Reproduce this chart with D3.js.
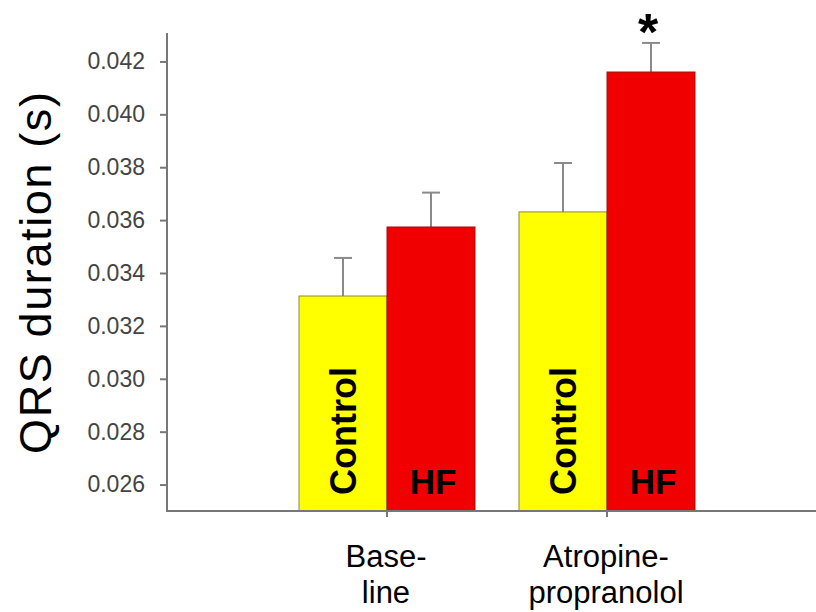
<!DOCTYPE html>
<html>
<head>
<meta charset="utf-8">
<script src="https://cdn.jsdelivr.net/npm/d3@7"></script>
<style>
  html, body { margin: 0; padding: 0; background: #ffffff; }
  svg { display: block; }
</style>
</head>
<body>
<svg id="chart" width="816" height="612"></svg>
<script>
// ---- data ----
const categories = ["Base-\nline", "Atropine-\npropranolol"];
const series = ["Control", "HF"];
const seriesLabels = ["Control", "HF"];
const controlValues = [0.03313, 0.03631];
const hfValues = [0.03574, 0.04160];
const controlErrors = [0.00144, 0.00185];
const hfErrors = [0.00130, 0.00110];
const yTicks = [0.026, 0.028, 0.030, 0.032, 0.034, 0.036, 0.038, 0.040, 0.042];
const yDomain = [0.025, 0.043];
const significance = [{ category: "Atropine-\npropranolol", series: "HF", mark: "*" }];
const yTitle = "QRS duration (s)";

// ---- layout ----
const svg = d3.select("#chart");
const axisX = 167, axisBottom = 511, axisTop = 35;
const colors = { Control: "#ffff00", HF: "#f00000" };

const y = d3.scaleLinear().domain(yDomain).range([axisBottom, axisTop]);
const x0 = d3.scaleBand().domain(categories).range([277, 717]).paddingInner(0).paddingOuter(0);
const x1 = d3.scaleBand().domain(series).range([0, x0.bandwidth()]).paddingInner(0).paddingOuter(0.25);

const rows = [];
categories.forEach((c, i) => {
  rows.push({ cat: c, ser: "Control", v: controlValues[i], e: controlErrors[i] });
  rows.push({ cat: c, ser: "HF", v: hfValues[i], e: hfErrors[i] });
});

// error bars
const eb = svg.append("g").attr("stroke", "#8a8a8a").attr("stroke-width", 2);
rows.forEach(d => {
  const cx = x0(d.cat) + x1(d.ser) + x1.bandwidth() / 2;
  eb.append("line").attr("x1", cx).attr("x2", cx).attr("y1", y(d.v)).attr("y2", y(d.v + d.e));
  eb.append("line").attr("x1", cx - 9).attr("x2", cx + 9).attr("y1", y(d.v + d.e)).attr("y2", y(d.v + d.e));
});

// bars
svg.append("g").selectAll("rect").data(rows).join("rect")
  .attr("x", d => x0(d.cat) + x1(d.ser))
  .attr("y", d => y(d.v))
  .attr("width", x1.bandwidth())
  .attr("height", d => axisBottom - y(d.v))
  .attr("fill", d => colors[d.ser])
  .attr("stroke", d => d.ser === "Control" ? "#8a8a40" : "#a01010")
  .attr("stroke-width", 1);

// labels inside bars
rows.forEach(d => {
  const cx = x0(d.cat) + x1(d.ser) + x1.bandwidth() / 2;
  if (d.ser === "Control") {
    svg.append("text")
      .attr("transform", `translate(${cx},495) rotate(-90)`)
      .attr("dy", "0.35em")
      .attr("text-anchor", "start")
      .attr("font-family", "Liberation Sans, Arial, sans-serif")
      .attr("font-weight", "bold").attr("font-size", 36)
      .attr("fill", "#000").text(seriesLabels[0]);
  } else {
    svg.append("text")
      .attr("x", cx + 2).attr("y", 494)
      .attr("text-anchor", "middle")
      .attr("font-family", "Liberation Sans, Arial, sans-serif")
      .attr("font-weight", "bold").attr("font-size", 35)
      .attr("fill", "#000").text(seriesLabels[1]);
  }
});

// y axis
const yAxis = d3.axisLeft(y).tickValues(yTicks).tickSize(7).tickPadding(15)
  .tickFormat(d3.format(".3f")).tickSizeOuter(0);
const gy = svg.append("g").attr("transform", `translate(${axisX},0)`).call(yAxis);
gy.select(".domain").remove();
gy.selectAll(".tick line").attr("stroke", "#777").attr("stroke-width", 2);
gy.selectAll(".tick text").attr("font-family", "Liberation Sans, Arial, sans-serif")
  .attr("font-size", 23).attr("fill", "#444");
svg.append("line").attr("x1", axisX).attr("x2", axisX).attr("y1", 33).attr("y2", axisBottom + 1)
  .attr("stroke", "#777").attr("stroke-width", 2);

// x axis
svg.append("line").attr("x1", axisX).attr("x2", 816).attr("y1", axisBottom).attr("y2", axisBottom)
  .attr("stroke", "#777").attr("stroke-width", 2);
categories.forEach(c => {
  const cx = x0(c) + x0.bandwidth() / 2;
  svg.append("line").attr("x1", cx).attr("x2", cx).attr("y1", axisBottom).attr("y2", axisBottom + 6)
    .attr("stroke", "#777").attr("stroke-width", 2);
  const lines = c.split("\n");
  lines.forEach((ln, i) => {
    svg.append("text").attr("x", cx - 1).attr("y", 567 + i * 36)
      .attr("text-anchor", "middle")
      .attr("font-family", "Liberation Sans, Arial, sans-serif")
      .attr("font-size", 31).attr("fill", "#000").text(ln);
  });
});

// significance mark
significance.forEach(s => {
  const cx = x0(s.category) + x1(s.series) + x1.bandwidth() / 2;
  svg.append("text").attr("x", cx - 3).attr("y", 50)
    .attr("text-anchor", "middle")
    .attr("font-family", "Liberation Sans, Arial, sans-serif")
    .attr("font-weight", "bold").attr("font-size", 52)
    .attr("fill", "#000").text(s.mark);
});

// y title
svg.append("text")
  .attr("transform", "translate(51,273) rotate(-90)")
  .attr("text-anchor", "middle")
  .attr("font-family", "Liberation Sans, Arial, sans-serif")
  .attr("font-size", 45)
  .attr("textLength", 362).attr("lengthAdjust", "spacing")
  .attr("fill", "#000").text(yTitle);
</script>
</body>
</html>
